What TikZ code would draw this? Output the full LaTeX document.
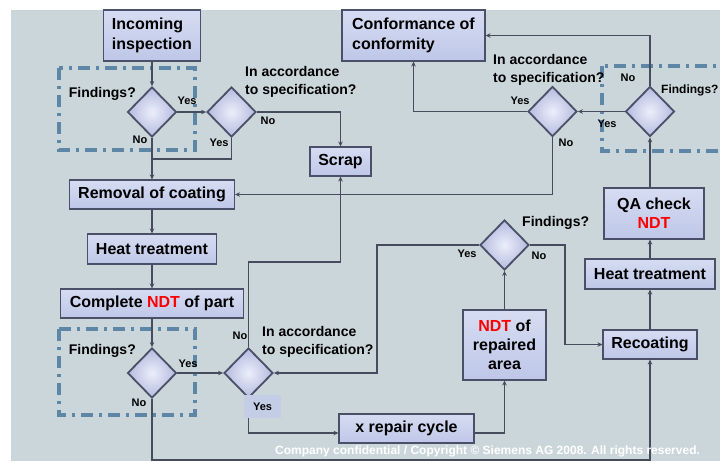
\documentclass[tikz,border=0pt]{standalone}
\usepackage{fontspec}
\setmainfont{Liberation Sans}
\usetikzlibrary{shapes.geometric,arrows.meta}
\definecolor{bg}{HTML}{CBD6DA}
\definecolor{boxline}{HTML}{4A5068}
\definecolor{boxtop}{HTML}{D6DCF2}
\definecolor{boxbot}{HTML}{BEC7E8}
\definecolor{diain}{HTML}{ECEEFA}
\definecolor{diaout}{HTML}{B3BBDF}
\definecolor{wirec}{HTML}{474B5E}
\definecolor{dashc}{HTML}{5E86A6}
\definecolor{ndtred}{HTML}{FF0000}
\definecolor{yesbox}{HTML}{C3CDE6}
\newcommand{\ndt}{\textcolor{ndtred}{NDT}}
\begin{document}
\begin{tikzpicture}[x=1pt,y=-1pt,
  stepbox/.style={draw=boxline,line width=1.1pt,top color=boxtop,bottom color=boxbot,
    inner sep=0pt,font=\bfseries\fontsize{16}{19}\selectfont,align=center},
  dia/.style={diamond,draw=boxline,line width=1.8pt,inner color=diain,outer color=diaout,
    minimum width=49pt,minimum height=50pt,inner sep=0pt},
  wire/.style={draw=wirec,line width=1.4pt,-{Stealth[length=5pt,width=4.5pt]}},
  plainwire/.style={draw=wirec,line width=1.4pt},
  dashrect/.style={draw=dashc,line width=3.5pt,dash pattern=on 12pt off 6pt on 3pt off 6pt},
  lbl/.style={font=\bfseries\fontsize{14}{18}\selectfont,inner sep=0pt,align=left},
  yn/.style={font=\bfseries\fontsize{11}{13}\selectfont,inner sep=0pt},
]
\useasboundingbox (0,0) rectangle (720,461);
\fill[white] (0,0) rectangle (720,461);
\fill[bg] (11,10) rectangle (720,461);

% dash-dot frames
\draw[dashrect] (59,68) rectangle (195,150);
\draw[dashrect] (59,329) rectangle (195,415);
\draw[dashrect] (602,66) rectangle (745,151);

% boxes
\node[stepbox,minimum width=97pt,minimum height=51pt] (inc) at (152,35.5) {\begin{tabular}{@{}l@{}}Incoming\\[1pt]inspection\end{tabular}};
\node[stepbox,minimum width=143pt,minimum height=51pt] (conf) at (413.5,35.5) {\begin{tabular}{@{}l@{}}Conformance of\\[1pt]conformity\end{tabular}};
\node[stepbox,minimum width=61pt,minimum height=29pt] (scrap) at (340.5,161.5) {Scrap};
\node[stepbox,minimum width=165pt,minimum height=29pt] (rem) at (152,194.5) {Removal of coating};
\node[stepbox,minimum width=129pt,minimum height=30pt] (heatL) at (152,249) {Heat treatment};
\node[stepbox,minimum width=183pt,minimum height=29pt] (cndt) at (152,303.5) {Complete \ndt{} of part};
\node[stepbox,minimum width=135pt,minimum height=29pt] (xr) at (406.5,428.5) {x repair cycle};
\node[stepbox,minimum width=83pt,minimum height=70pt] (ndr) at (504.5,345) {\ndt{} of\\repaired\\area};
\node[stepbox,minimum width=94pt,minimum height=29pt] (rec) at (650,344.5) {Recoating};
\node[stepbox,minimum width=130pt,minimum height=30pt] (heatR) at (650,274) {Heat treatment};
\node[stepbox,minimum width=100pt,minimum height=51pt] (qa) at (654,213.5) {QA check\\\ndt};

% diamonds
\node[dia] (d1) at (152,112) {};
\node[dia] (d2) at (231.5,112) {};
\node[dia] (d3) at (152,373) {};
\node[dia] (d4) at (248.5,373) {};
\node[dia] (d5) at (504.5,245) {};
\node[dia] (d6) at (650,111.5) {};
\node[dia] (d7) at (552.5,111.5) {};

% helper coordinates
\coordinate (j1) at (152,159);
\coordinate (b1) at (152,460);
\coordinate (c2) at (340.5,262);
\coordinate (y433) at (400,433);
\coordinate (c4) at (377,373);
\coordinate (c5) at (565,344.5);

% connectors
\draw[wire] (inc) -- (d1);
\draw[wire] (d1) -- (d2);
\draw[wire] (d2.east) -| (scrap.north);
\draw[plainwire] (d2.south) |- (j1);
\draw[wire] (d1.south) -- (rem.north);
\draw[wire] (rem) -- (heatL);
\draw[wire] (heatL) -- (cndt);
\draw[wire] (cndt) -- (d3);
\draw[wire] (d3) -- (d4);
\draw[wire] (d3.south) -- (b1) -| (rec.south);
\draw[wire] (d4.north) |- (c2) -- (scrap.south);
\draw[wire] (d4.south) |- (xr.west |- y433);
\draw[wire] (xr.east |- y433) -| (ndr.south);
\draw[wire] (ndr) -- (d5);
\draw[wire] (d5.west) -| (c4) -- (d4.east);
\draw[wire] (d5.east) -| (c5) -- (rec.west);
\draw[wire] (rec) -- (heatR);
\draw[wire] (heatR.north) -- (heatR.north |- qa.south);
\draw[wire] (qa.north -| d6) -- (d6.south);
\draw[wire] (d6) -- (d7);
\draw[wire] (d6.north) |- (conf.east);
\draw[wire] (d7.west) -| (conf.south);
\draw[wire] (d7.south) |- (rem.east);

% labels
\node[lbl,anchor=east] (f1) at (136,94) {Findings?};
\node[yn] (y1) at (187,101) {Yes};
\node[yn] (n1) at (140,140) {No};
\node[lbl,anchor=west] (s2) at (245,82) {In accordance\\to specification?};
\node[yn] (n2) at (268,121) {No};
\node[yn] (y2) at (219,143) {Yes};

\node[lbl,anchor=east] (f3) at (136,351) {Findings?};
\node[yn] (y3) at (188,364) {Yes};
\node[yn] (n3) at (139,403) {No};
\node[lbl,anchor=west] (s4) at (262,341.5) {In accordance\\to specification?};
\node[yn] (n4) at (240,336) {No};
\node[yn,fill=yesbox,minimum width=37pt,minimum height=23pt] (y4) at (262.5,406.5) {Yes};

\node[lbl,anchor=west] (f5) at (522,223) {Findings?};
\node[yn] (y5) at (467,254) {Yes};
\node[yn] (n5) at (539,256) {No};

\node[lbl,anchor=west] (s7) at (493,70) {In accordance\\to specification?};
\node[yn] (y7) at (520,101) {Yes};
\node[yn] (n7) at (566,143) {No};

\node[lbl,anchor=west,font=\bfseries\fontsize{12}{14}\selectfont] (f6) at (661,90) {Findings?};
\node[yn] (n6) at (628,78) {No};
\node[yn] (y6) at (607,124) {Yes};

\node[anchor=west,text=white,inner sep=0pt,font=\bfseries\fontsize{12}{14}\selectfont] (copy) at (275,451) {Company confidential / Copyright © Siemens AG 2008. All rights reserved.};
\end{tikzpicture}
\end{document}
